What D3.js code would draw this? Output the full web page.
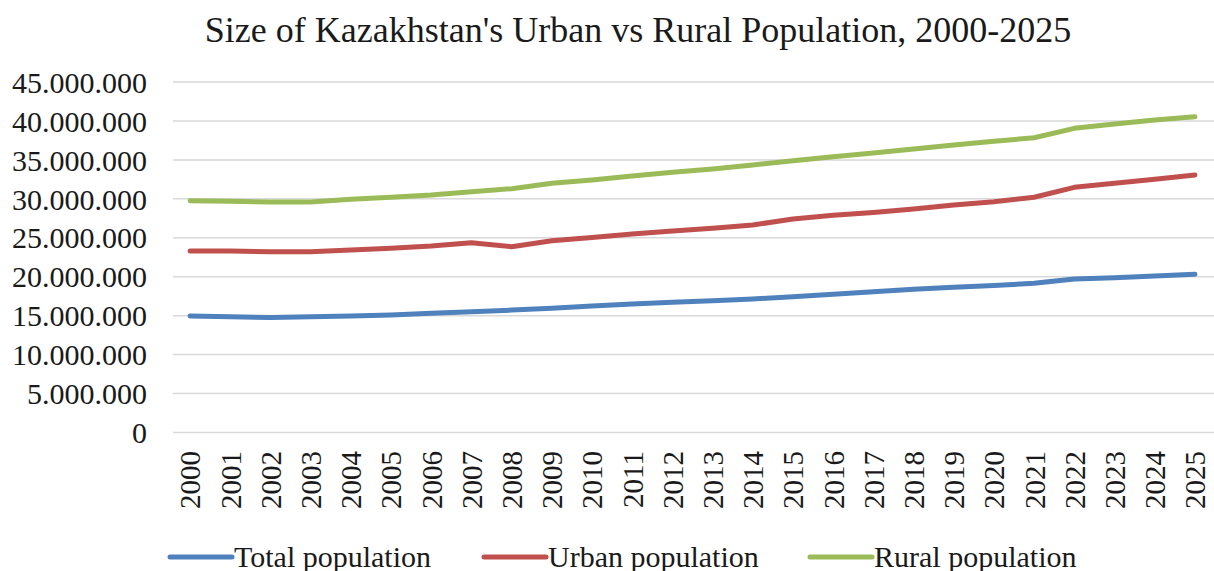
<!DOCTYPE html>
<html>
<head>
<meta charset="utf-8">
<script src="https://cdn.jsdelivr.net/npm/d3@7"></script>
<style>
  html, body { margin: 0; padding: 0; background: #fff; }
  svg { display: block; }
  text { font-family: "Liberation Serif", "Times New Roman", serif; fill: #1a1a1a; }
</style>
</head>
<body>
<svg id="chart" width="1214" height="571"></svg>
<script>
// Years on the category axis
const years = ["2000","2001","2002","2003","2004","2005","2006","2007","2008","2009","2010","2011","2012",
  "2013","2014","2015","2016","2017","2018","2019","2020","2021","2022","2023","2024","2025"];

// Series values as plotted (people)
const totalPopulation = [14960000,14870000,14760000,14870000,14960000,15090000,15300000,15500000,15720000,
  15940000,16240000,16500000,16710000,16920000,17140000,17440000,17760000,18080000,18380000,18640000,
  18860000,19150000,19700000,19880000,20100000,20310000];
const urbanPopulation = [23300000,23300000,23220000,23220000,23430000,23650000,23940000,24370000,23860000,
  24630000,25050000,25480000,25870000,26210000,26640000,27410000,27880000,28250000,28700000,29200000,
  29630000,30200000,31480000,32000000,32500000,33060000];
const ruralPopulation = [29760000,29680000,29600000,29600000,29940000,30200000,30500000,30920000,31300000,
  32000000,32420000,32930000,33400000,33830000,34340000,34900000,35410000,35880000,36400000,36910000,
  37380000,37850000,39050000,39600000,40120000,40540000];

// Value axis ticks
const yTicks = [0,5000000,10000000,15000000,20000000,25000000,30000000,35000000,40000000,45000000];

const seriesNames = ["Total population", "Urban population", "Rural population"];
const seriesColors = ["#4f81bd", "#c0504d", "#9bbb59"];

const series = [totalPopulation, urbanPopulation, ruralPopulation].map((vals, i) => ({
  name: seriesNames[i], color: seriesColors[i],
  points: vals.map((v, j) => ({ year: years[j], value: v }))
}));

const svg = d3.select("#chart");
const plot = { left: 170, right: 1215, top: 82, bottom: 432.5 };

const x = d3.scalePoint().domain(years).range([plot.left, plot.right]).padding(0.5);
const y = d3.scaleLinear().domain([0, 45000000]).range([plot.bottom, plot.top]);

const fmt = v => d3.format(",")(v).replace(/,/g, ".");

// Title
svg.append("text")
  .attr("x", 638).attr("y", 42)
  .attr("text-anchor", "middle")
  .attr("font-size", 36)
  .text("Size of Kazakhstan's Urban vs Rural Population, 2000-2025");

// Horizontal gridlines
svg.append("g").selectAll("line").data(yTicks).join("line")
  .attr("x1", 173).attr("x2", 1214)
  .attr("y1", d => y(d)).attr("y2", d => y(d))
  .attr("stroke", "#d9d9d9").attr("stroke-width", 1.5);

// Value axis labels
const yAxis = d3.axisLeft(y).tickValues(yTicks).tickFormat(fmt).tickSize(0).tickPadding(0);
const yg = svg.append("g").attr("transform", "translate(147,0)").call(yAxis);
yg.select(".domain").remove();
yg.selectAll("text").attr("font-size", 30).attr("font-family", "Liberation Serif, Times New Roman, serif")
  .attr("fill", "#1a1a1a").attr("dy", "0.34em");

// Category axis labels, rotated
const xAxis = d3.axisBottom(x).tickSize(0).tickPadding(0);
const xg = svg.append("g").attr("transform", "translate(0,451)").call(xAxis);
xg.select(".domain").remove();
xg.selectAll("text")
  .attr("font-size", 29).attr("font-family", "Liberation Serif, Times New Roman, serif")
  .attr("fill", "#1a1a1a")
  .attr("text-anchor", "end")
  .attr("transform", "rotate(-90)")
  .attr("x", 0).attr("y", 0).attr("dy", "0.34em");

// Series lines
const line = d3.line().x(d => x(d.year)).y(d => y(d.value));
svg.append("g").selectAll("path").data(series).join("path")
  .attr("d", d => line(d.points))
  .attr("fill", "none")
  .attr("stroke", d => d.color)
  .attr("stroke-width", 5)
  .attr("stroke-linejoin", "round")
  .attr("stroke-linecap", "round");

// Legend
const legendX = [170, 484, 810];
const lg = svg.append("g").selectAll("g").data(series).join("g")
  .attr("transform", (d, i) => `translate(${legendX[i]},557)`);
lg.append("line").attr("x1", 0).attr("x2", 62).attr("y1", 0).attr("y2", 0)
  .attr("stroke", d => d.color).attr("stroke-width", 5).attr("stroke-linecap", "round");
lg.append("text").attr("x", 64).attr("y", 9.5).attr("font-size", 30).text(d => d.name);
</script>
</body>
</html>
